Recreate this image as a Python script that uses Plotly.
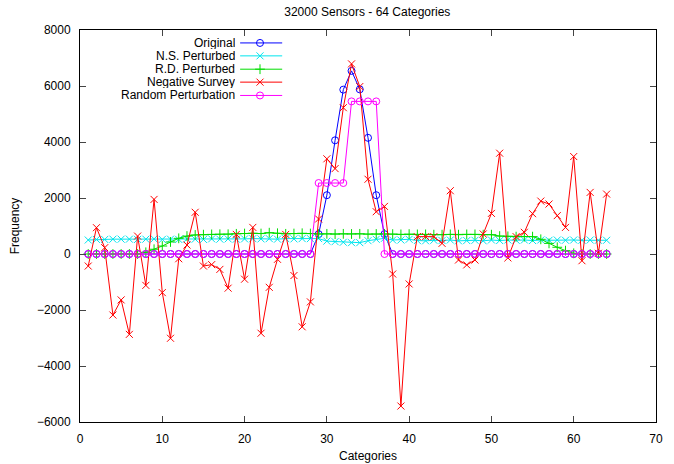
import plotly.graph_objects as go

categories = list(range(1, 65))

original = [0]*28 + [710, 2100, 4060, 5870, 6540, 5880, 4150, 2100, 710] + [0]*27

ns_perturbed = [500, 520, 520, 530, 530, 530, 520, 530, 540, 520,
                530, 520, 540, 530, 520, 540, 530, 540, 530, 540,
                550, 540, 550, 530, 550, 540, 550, 550, 550, 460,
                440, 420, 405, 405, 475, 525, 560, 500, 500, 525,
                480, 470, 490, 480, 500, 470, 480, 490, 470, 500,
                480, 500, 490, 500, 480, 500, 490, 500, 490, 500,
                490, 500, 490, 490]

rd_perturbed = [0, 0, 0, 0, 0, 0, 0, 60, 170, 285,
                430, 560, 640, 680, 690, 700, 705, 705, 720, 730,
                740, 730, 760, 740, 720, 730, 740, 730, 715, 720,
                710, 720, 715, 720, 710, 715, 720, 710, 700, 710,
                700, 700, 690, 690, 700, 690, 700, 700, 690, 690,
                640, 630, 620, 620, 620, 525, 380, 240, 120, 25,
                0, 0, 0, 0]

negative_survey = [-430, 940, 225, -2180, -1640, -2870, 640, -1120, 1950, -1380,
                   -3010, -170, 320, 1490, -430, -380, -550, -1220, 700, -900,
                   950, -2830, -1190, -190, 700, -770, -2600, -1710, 1250, 3400,
                   3050, 5225, 6790, 5980, 2670, 1510, 1700, -715, -5430, -1070,
                   620, 620, 620, 380, 2260, -215, -390, -215, 715, 1450,
                   3600, -140, 620, 775, 1440, 1890, 1785, 1370, 950, 3480,
                   -240, 2200, 25, 2140]

random_perturbation = [0]*28 + [2535]*4 + [5450]*4 + [0]*28

series = [
    ("Original", original, "#0000ff", "circle-open"),
    ("N.S. Perturbed", ns_perturbed, "#00e5ee", "x-thin-open"),
    ("R.D. Perturbed", rd_perturbed, "#00dd00", "cross-thin-open"),
    ("Negative Survey", negative_survey, "#ff0000", "x-thin-open"),
    ("Random Perturbation", random_perturbation, "#ff00ff", "circle-open"),
]

x_ticks = [0, 10, 20, 30, 40, 50, 60, 70]
y_ticks = [-6000, -4000, -2000, 0, 2000, 4000, 6000, 8000]

FONT = "Liberation Sans, Arial, Helvetica, sans-serif"

fig = go.Figure()
for name, vals, color, sym in series:
    fig.add_trace(go.Scatter(
        x=categories, y=vals, name=name, mode="lines+markers",
        line=dict(color=color, width=1),
        marker=dict(symbol=sym, size=7, color=color, line=dict(color=color, width=1)),
        showlegend=False,
    ))

# manual gnuplot-style legend (text right, sample at right)
leg_text_x = 0.271
leg_x0, leg_xm, leg_x1 = 0.278, 0.3125, 0.351
leg_ys = [0.967, 0.934, 0.900, 0.867, 0.833]
for (name, vals, color, sym), ly in zip(series, leg_ys):
    fig.add_annotation(x=leg_text_x, y=ly, xref="paper", yref="paper", text=name,
                       showarrow=False, xanchor="right", yanchor="middle", height=12,
                       borderpad=0,
                       font=dict(family=FONT, size=12, color="black"))
    fig.add_shape(type="line", xref="paper", yref="paper", x0=leg_x0, x1=leg_x1,
                  y0=ly, y1=ly, line=dict(color=color, width=1))
    fig.add_trace(go.Scatter(
        x=[leg_xm], y=[ly], xaxis="x2", yaxis="y2", mode="markers", showlegend=False,
        marker=dict(symbol=sym, size=7, color=color, line=dict(color=color, width=1)),
        hoverinfo="skip",
    ))

fig.update_layout(
    width=674, height=464,
    margin=dict(l=80, r=18, t=30, b=42, autoexpand=False),
    paper_bgcolor="white", plot_bgcolor="white",
    font=dict(family=FONT, size=12, color="black"),
    title=dict(text="32000 Sensors - 64 Categories", x=0.545, xanchor="center",
               y=0.975, yanchor="middle", font=dict(family=FONT, size=12),
               automargin=False),
    xaxis=dict(range=[0, 70], tickvals=x_ticks, ticks="inside", ticklen=6,
               showline=True, linecolor="black", linewidth=1, mirror="allticks",
               showgrid=False, zeroline=False, ticklabelstandoff=6, automargin=False,
               title=dict(text="Categories", standoff=6, font=dict(size=12))),
    yaxis=dict(range=[-6000, 8000], tickvals=y_ticks, ticks="inside", ticklen=6,
               showline=True, linecolor="black", linewidth=1, mirror="allticks",
               showgrid=False, zeroline=False, ticklabelstandoff=6, automargin=False,
               title=dict(text="Frequency", standoff=14, font=dict(size=12))),
    xaxis2=dict(range=[0, 1], overlaying="x", visible=False, fixedrange=True),
    yaxis2=dict(range=[0, 1], overlaying="y", visible=False, fixedrange=True),
)

fig.write_html("out.html", config={"displayModeBar": False},
               post_script="document.body.style.margin='0px';document.body.style.overflow='hidden';")
